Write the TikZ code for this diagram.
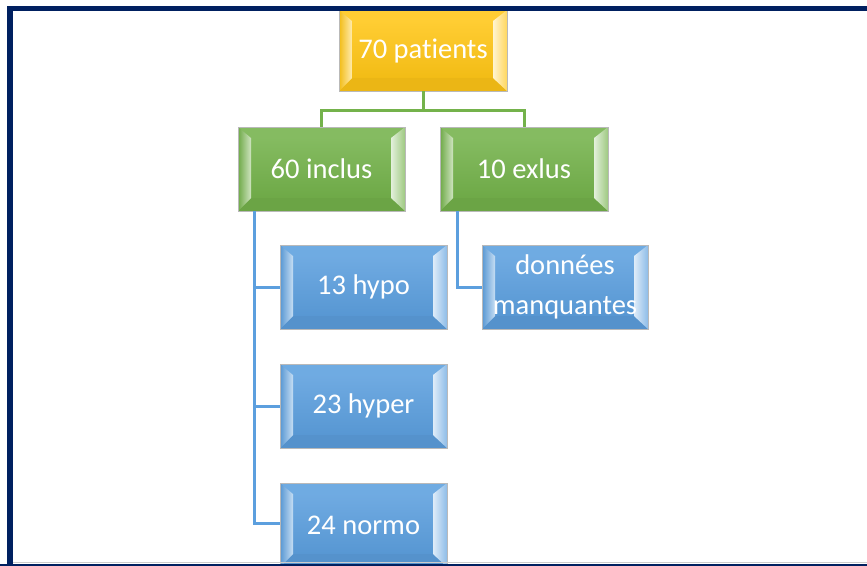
\documentclass[tikz,border=0pt]{standalone}
\usepackage{fontspec}
\setmainfont{Carlito}[Ligatures=NoCommon]
\usetikzlibrary{calc}
\definecolor{navy}{HTML}{002060}
\definecolor{gold}{HTML}{FFC617}
\definecolor{leaf}{HTML}{74B24B}
\definecolor{sky}{HTML}{5C9FDE}
\tikzset{
  bevelbox/.style={minimum width=167pt, minimum height=84pt, inner sep=0pt,
    text=white, font=\fontsize{28.5}{40}\selectfont, align=center,
    fill=#1, draw=gray!55, line width=0.8pt,
    path picture={
      \coordinate (o1) at (path picture bounding box.north west);
      \coordinate (o2) at (path picture bounding box.north east);
      \coordinate (o3) at (path picture bounding box.south east);
      \coordinate (o4) at (path picture bounding box.south west);
      \coordinate (i1) at ($(o1)+(13,11)$);
      \coordinate (i2) at ($(o2)+(-14,11)$);
      \coordinate (i3) at ($(o3)+(-14,-13)$);
      \coordinate (i4) at ($(o4)+(13,-13)$);
      \shade[top color=#1!88!white, bottom color=#1!95!black] (i1) rectangle (i3);
      \fill[#1!88!white] (o1)--(o2)--(i2)--(i1)--cycle;
      \fill[#1!92!black] (o4)--(o3)--(i3)--(i4)--cycle;
      \shade[left color=#1!95!black, right color=#1!35!white] (o1)--(i1)--(i4)--(o4)--cycle;
      \shade[left color=#1!20!white, right color=#1!70!white] (o2)--(i2)--(i3)--(o3)--cycle;
    }},
  greenlink/.style={draw=leaf, line width=3pt},
  bluelink/.style={draw=sky, line width=3pt},
  frameline/.style={draw=navy, line width=5.5pt}
}
\begin{document}
\begin{tikzpicture}[x=1pt,y=-1pt]
\useasboundingbox (0,0) rectangle (867,565);
\clip (0,0) rectangle (867,565);
\fill[white] (0,0) rectangle (867,565);

\node[bevelbox=gold, minimum width=168pt, minimum height=81pt] (pat) at (423,50.5) {70 patients};
\node[bevelbox=leaf] (inc) at (321.5,169) {60 inclus};
\node[bevelbox=leaf, minimum width=168pt] (exc) at (524,169) {10 exlus};
\node[bevelbox=sky] (hypo) at (363.5,287) {13 hypo};
\node[bevelbox=sky, minimum width=166pt] (manq) at (565,287) {données\\manquantes};
\node[bevelbox=sky] (hyper) at (363.5,406) {23 hyper};
\node[bevelbox=sky] (normo) at (363.5,525) {24 normo};

\coordinate (fork) at ($(pat.south)+(0,19)$);
\draw[greenlink] (pat.south) -- (fork) -| (inc.north);
\draw[greenlink] (fork) -| (exc.north);

\coordinate (incstem) at ($(inc.south west)+(17,0)$);
\coordinate (excstem) at ($(exc.south west)+(18,0)$);
\draw[bluelink] (incstem) |- (hypo.west);
\draw[bluelink] (incstem) |- (hyper.west);
\draw[bluelink] (incstem) |- ($(normo.west)+(0,-2)$);
\draw[bluelink] (excstem) |- (manq.west);

\draw[frameline] (10,900) -- (10,8.5) -- (900,8.5);
\draw[draw=navy, line width=4pt] (0,566) -- (900,566);
\draw[draw=gray!40, line width=1pt] (13,562.5) -- (900,562.5);
\end{tikzpicture}
\end{document}
